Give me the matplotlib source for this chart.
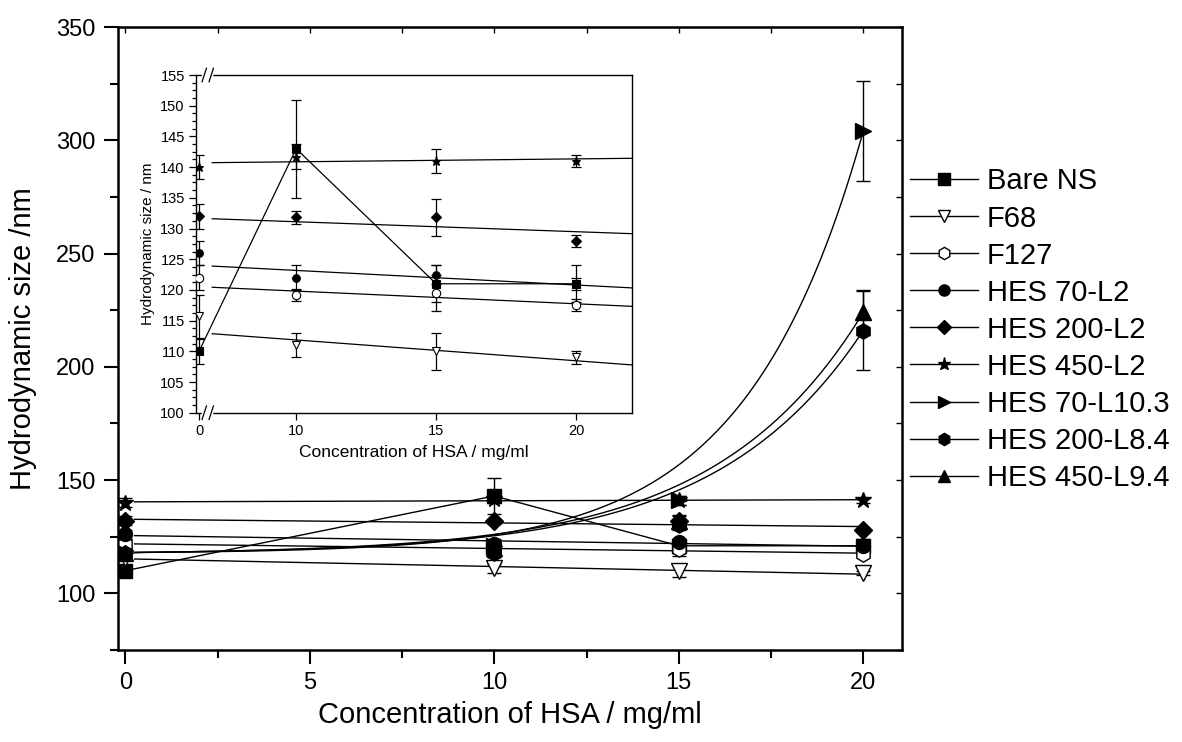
import numpy as np
import matplotlib.pyplot as plt
from matplotlib.lines import Line2D
from matplotlib.ticker import MultipleLocator, FixedLocator

plt.rcParams['font.family'] = ['Liberation Sans', 'DejaVu Sans']

conc = [0, 10, 15, 20]

bare_ns = [110, 143, 121, 121]
bare_ns_err = [2, 8, 3, 3]
f68 = [115.7, 111, 110, 109]
f68_err = [3.5, 2, 3, 1]
f127 = [122, 119.2, 119.5, 117.5]
f127_err = [2, 1, 3, 1]
hes70_l2 = [126, 122, 122.5, 121]
hes70_l2_err = [2, 2, 1.5, 1]
hes200_l2 = [132, 131.8, 131.8, 128]
hes200_l2_err = [2, 1, 3, 1]
hes450_l2 = [140, 141.7, 141, 141]
hes450_l2_err = [2, 2, 2, 1]
hes70_l10 = [118, 121, 141, 304]
hes70_l10_err = [2, 2, 2, 22]
hes200_l8 = [118, 118, 130, 216]
hes200_l8_err = [2, 2, 2, 17.5]
hes450_l9 = [118, 120, 132, 224]
hes450_l9_err = [2, 2, 2, 10]

# growth constant of the exponential curves
curve_t = {'HES 70-L10.3': 3.2, 'HES 200-L8.4': 4.0, 'HES 450-L9.4': 4.0}

names = ['Bare NS', 'F68', 'F127', 'HES 70-L2', 'HES 200-L2', 'HES 450-L2',
         'HES 70-L10.3', 'HES 200-L8.4', 'HES 450-L9.4']
values = [bare_ns, f68, f127, hes70_l2, hes200_l2, hes450_l2,
          hes70_l10, hes200_l8, hes450_l9]
errors = [bare_ns_err, f68_err, f127_err, hes70_l2_err, hes200_l2_err,
          hes450_l2_err, hes70_l10_err, hes200_l8_err, hes450_l9_err]
markers = ['s', 'v', 'h', 'o', 'D', '*', '>', 'h', '^']
faces = ['k', 'w', 'w', 'k', 'k', 'k', 'k', 'k', 'k']
sizes = [10, 11, 11, 10, 9, 12, 11, 11, 11]
# how each series is joined: segments, straight fit, exponential curve
joins = ['seg', 'lin', 'lin', 'lin', 'lin', 'lin', 'exp', 'exp', 'exp']


def curve(kind, name, x, y, xx):
    if kind == 'lin':
        p = np.polyfit(x, y, 1)
        return np.polyval(p, xx)
    # y0 + A*exp(x/t) through the first and last point
    t = curve_t[name]
    a = (y[-1] - y[0]) / (np.exp(x[-1] / t) - np.exp(x[0] / t))
    y0 = y[0] - a * np.exp(x[0] / t)
    return y0 + a * np.exp(xx / t)


fig = plt.figure(figsize=(11.82, 7.42), dpi=100)
ax = fig.add_axes([0.0998, 0.1240, 0.6633, 0.8396])

xx = np.linspace(0.25, 20, 300)
for i in range(9):
    if joins[i] == 'seg':
        ax.plot(conc, values[i], color='k', lw=1, zorder=2)
    else:
        ax.plot(xx, curve(joins[i], names[i], conc, values[i], xx), color='k', lw=1, zorder=2)
    ax.errorbar(conc, values[i], yerr=errors[i], fmt='none', ecolor='k',
                elinewidth=1, capsize=5, capthick=1, zorder=3)
    ax.plot(conc, values[i], ls='none', marker=markers[i], ms=sizes[i],
            mfc=faces[i], mec='k', mew=1, zorder=4)

ax.set_xlim(-0.2, 21.05)
ax.set_ylim(75, 350)
ax.xaxis.set_major_locator(MultipleLocator(5))
ax.xaxis.set_minor_locator(MultipleLocator(2.5))
ax.yaxis.set_major_locator(MultipleLocator(50))
ax.yaxis.set_minor_locator(MultipleLocator(25))
ax.tick_params(which='both', direction='out', width=1.5, labelsize=17)
ax.tick_params(which='major', length=10, pad=6)
ax.tick_params(which='minor', length=6)
for s in ax.spines.values():
    s.set_linewidth(1.8)

sec_y = ax.secondary_yaxis('right')
sec_y.yaxis.set_major_locator(MultipleLocator(25))
sec_y.tick_params(direction='in', length=4, width=1, labelright=False)
sec_x = ax.secondary_xaxis('top')
sec_x.xaxis.set_major_locator(MultipleLocator(2.5))
sec_x.tick_params(direction='in', length=4, width=1, labeltop=False)

ax.set_xlabel('Concentration of HSA / mg/ml', fontsize=21, labelpad=5)
ax.set_ylabel('Hydrodynamic size /nm', fontsize=21, labelpad=14)

handles = [Line2D([], [], color='k', lw=1, marker=markers[i], ms=sizes[i] * 0.8,
                  mfc=faces[i], mec='k') for i in range(9)]
fig.legend(handles, names, loc='upper left', bbox_to_anchor=(0.760, 0.79),
           frameon=False, fontsize=21, handlelength=2.33, handletextpad=0.3,
           labelspacing=0.31, borderaxespad=0)

# inset with a break on the x axis between 0 and ~6.8
brk_lo, brk_hi = 0.3, 6.83


def fwd(x):
    x = np.asarray(x, float)
    return np.where(x <= brk_lo, x, np.where(x >= brk_hi, x - (brk_hi - brk_lo), brk_lo))


def inv(u):
    u = np.asarray(u, float)
    return np.where(u <= brk_lo, u, u + (brk_hi - brk_lo))


ins = fig.add_axes([0.1658, 0.4438, 0.3689, 0.4551])
ins.set_xscale('function', functions=(fwd, inv))
xi = np.linspace(7.0, 22, 100)
for i in range(6):
    if joins[i] == 'seg':
        ins.plot(conc, values[i], color='k', lw=0.9, zorder=2)
    else:
        ins.plot(xi, curve('lin', names[i], conc, values[i], xi), color='k', lw=0.9, zorder=2)
    ins.errorbar(conc, values[i], yerr=errors[i], fmt='none', ecolor='k',
                 elinewidth=0.9, capsize=3.5, capthick=0.9, zorder=3)
    m = 'o' if i == 2 else markers[i]
    ins.plot(conc, values[i], ls='none', marker=m, ms=sizes[i] * 0.55,
             mfc=faces[i], mec='k', mew=0.8, zorder=4)

ins.set_xlim(-0.11, 22)
ins.set_ylim(100, 155)
ins.xaxis.set_major_locator(FixedLocator([0, 10, 15, 20]))
ins.xaxis.set_minor_locator(FixedLocator([]))
ins.yaxis.set_major_locator(MultipleLocator(5))
ins.yaxis.set_minor_locator(MultipleLocator(1.25))
ins.tick_params(which='both', direction='out', width=0.9, labelsize=10.5)
ins.tick_params(which='major', length=5, pad=3)
ins.tick_params(which='minor', length=3)
for s in ins.spines.values():
    s.set_linewidth(1)
ins.set_xlabel('Concentration of HSA / mg/ml', fontsize=12.5, labelpad=5)
ins.set_ylabel('Hydrodynamic size / nm', fontsize=11, labelpad=4)

# break marks on the top and bottom spines
for yb in (0, 1):
    ins.plot([0.017, 0.035], [yb, yb], transform=ins.transAxes, color='w',
             lw=2.5, clip_on=False, zorder=5)
    for xb in (0.014, 0.03):
        ins.plot([xb, xb + 0.01], [yb - 0.02, yb + 0.02], transform=ins.transAxes,
                 color='k', lw=0.9, clip_on=False, zorder=6)

fig.savefig('out.png', dpi=100)
